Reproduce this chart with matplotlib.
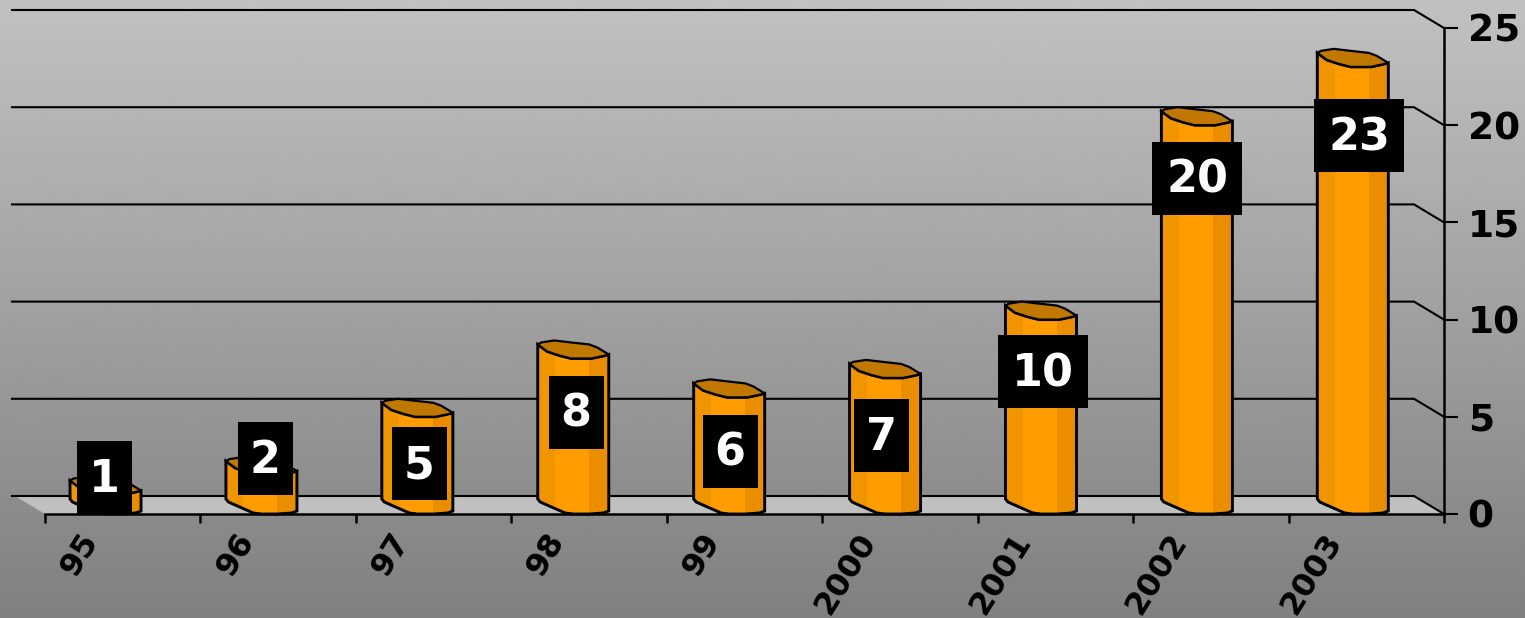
"""Orange cylinder column chart on a grey gradient, fake 3D like the old Excel look."""

import matplotlib
matplotlib.use("Agg")
import matplotlib.pyplot as plt
import numpy as np
from matplotlib.patches import Polygon, Rectangle
from matplotlib.transforms import ScaledTranslation

categories = ["95", "96", "97", "98", "99", "2000", "2001", "2002", "2003"]
values = [1, 2, 5, 8, 6, 7, 10, 20, 23]
y_ticks = [0, 5, 10, 15, 20, 25]

# where each value box sits, pixels relative to the top of its bar
label_dx = [-1.5, 3.6, 1.7, 2.8, 0.9, -4, 2.1, 0.2, 6.3]
label_dy = [-17, -17, 47, 54, 54, 58, 52, 53, 69]

W, H = 1525, 618
AX_L, AX_R, AX_B, AX_T = 45, 1444, 514, 28
DEPTH_X, DEPTH_Y = -30, 18
BAR_SHIFT = -17.2
BAR_STEP = 1.003

C_BAR = "#FF9C00"
C_BAR_L = "#F09400"
C_BAR_R = "#EA8E00"
C_TOP = "#C07800"
C_FLOOR = "#C0C0C0"

# pixel -> data unit
PX = (len(categories)) / (AX_R - AX_L)
PY = y_ticks[-1] / (AX_B - AX_T)

# cylinder outlines in pixels around the bar centre (dy up from the lowest point)
BASE = [(-35.5, 15), (-33, 12), (-24, 8), (-8, 1), (0, 0), (16, 0), (30, 1), (35.5, 3)]
TOP_BACK = [(35.5, 4), (24, 11), (16, 14), (-2, 16), (-19, 18), (-32, 16), (-35.5, 14)]
TOP_FRONT = [(-35.5, 14), (-26, 7), (-14, 3), (-2, 0), (18, 0), (30, 2.5), (35.5, 4)]


def pts(cx, base, outline):
    return [(cx + dx * PX, base + dy * PY) for dx, dy in outline]


def bar_center(i):
    return i * BAR_STEP + BAR_SHIFT * PX


def draw_bar(ax, i, v):
    cx = bar_center(i)
    # body, then the side shading clipped to the same outline
    body = pts(cx, 0, BASE) + pts(cx, v, TOP_FRONT[::-1])
    patch = Polygon(body, closed=True, fc=C_BAR, ec="none", zorder=4, clip_on=False)
    ax.add_patch(patch)
    for x0, x1, col in [(-35.5, -18, C_BAR_L), (16, 35.5, C_BAR_R)]:
        band = Rectangle((cx + x0 * PX, 0), (x1 - x0) * PX, v + 18 * PY, fc=col, ec="none", zorder=5)
        ax.add_patch(band)
        band.set_clip_path(patch)
    ax.add_patch(Polygon(body, closed=True, fc="none", ec="black", lw=2.1, zorder=6, clip_on=False))
    top = pts(cx, v, TOP_BACK) + pts(cx, v, TOP_FRONT)[1:-1]
    ax.add_patch(Polygon(top, closed=True, fc=C_TOP, ec="black", lw=1.6, zorder=7, clip_on=False))


fig = plt.figure(figsize=(W / 100, H / 100), dpi=100)

bg = fig.add_axes([0, 0, 1, 1], zorder=-1)
bg.imshow(np.linspace(193, 128, 256).reshape(-1, 1), cmap="gray", vmin=0, vmax=255,
          aspect="auto", extent=[0, 1, 0, 1])
bg.axis("off")

ax = fig.add_axes([AX_L / W, 1 - AX_B / H, (AX_R - AX_L) / W, (AX_B - AX_T) / H])
ax.patch.set_alpha(0)
ax.set_xlim(-0.5, len(categories) - 0.5)
ax.set_ylim(0, y_ticks[-1])

# floor and back wall lines
x0, x1 = ax.get_xlim()
ax.add_patch(Polygon([(x0, 0), (x1, 0), (x1 + DEPTH_X * PX, DEPTH_Y * PY), (x0 + DEPTH_X * PX, DEPTH_Y * PY)],
                     closed=True, fc=C_FLOOR, ec="none", zorder=1, clip_on=False))
for t in y_ticks:
    back = t + DEPTH_Y * PY
    ax.plot([x0 - 33 * PX, x1 + DEPTH_X * PX, x1], [back, back, t], color="black", lw=1.5,
            zorder=2, clip_on=False, solid_joinstyle="miter")

for i, v in enumerate(values):
    draw_bar(ax, i, v)

# value boxes
for i, v in enumerate(values):
    txt = str(v)
    cx = bar_center(i) + label_dx[i] * PX
    cy = v - label_dy[i] * PY
    bw = (90 if len(txt) > 1 else 55) * PX
    bh = 73 * PY
    ax.add_patch(Rectangle((cx - bw / 2, cy - bh / 2), bw, bh, fc="black", ec="none", zorder=8, clip_on=False))
    ax.text(cx, cy + 2.5 * PY, txt, color="white", fontsize=32, fontweight="bold", ha="center",
            va="center_baseline", zorder=9, clip_on=False)

# axes
for side in ["top", "left"]:
    ax.spines[side].set_visible(False)
for side in ["right", "bottom"]:
    ax.spines[side].set_linewidth(1.8)
    ax.spines[side].set_zorder(3)

ax.yaxis.tick_right()
ax.set_yticks(y_ticks)
ax.tick_params(axis="y", length=10, width=1.5, pad=7, labelsize=27, direction="out")
for lab in ax.get_yticklabels():
    lab.set_fontweight("bold")

ax.set_xticks(np.arange(len(categories) + 1) - 0.5)
ax.tick_params(axis="x", which="major", length=6.5, width=1.8, labelbottom=False)
ax.set_xticks(np.arange(len(categories)), minor=True)
ax.set_xticklabels(categories, minor=True)
ax.tick_params(axis="x", which="minor", length=0, pad=10)
shift = ScaledTranslation(-44 / 100, 0, fig.dpi_scale_trans)
for lab in ax.get_xticklabels(minor=True):
    lab.set(rotation=58, ha="right", va="top", rotation_mode="anchor",
            fontsize=23, fontweight="bold")
    lab.set_transform(lab.get_transform() + shift)

fig.savefig("out.png", dpi=100)
